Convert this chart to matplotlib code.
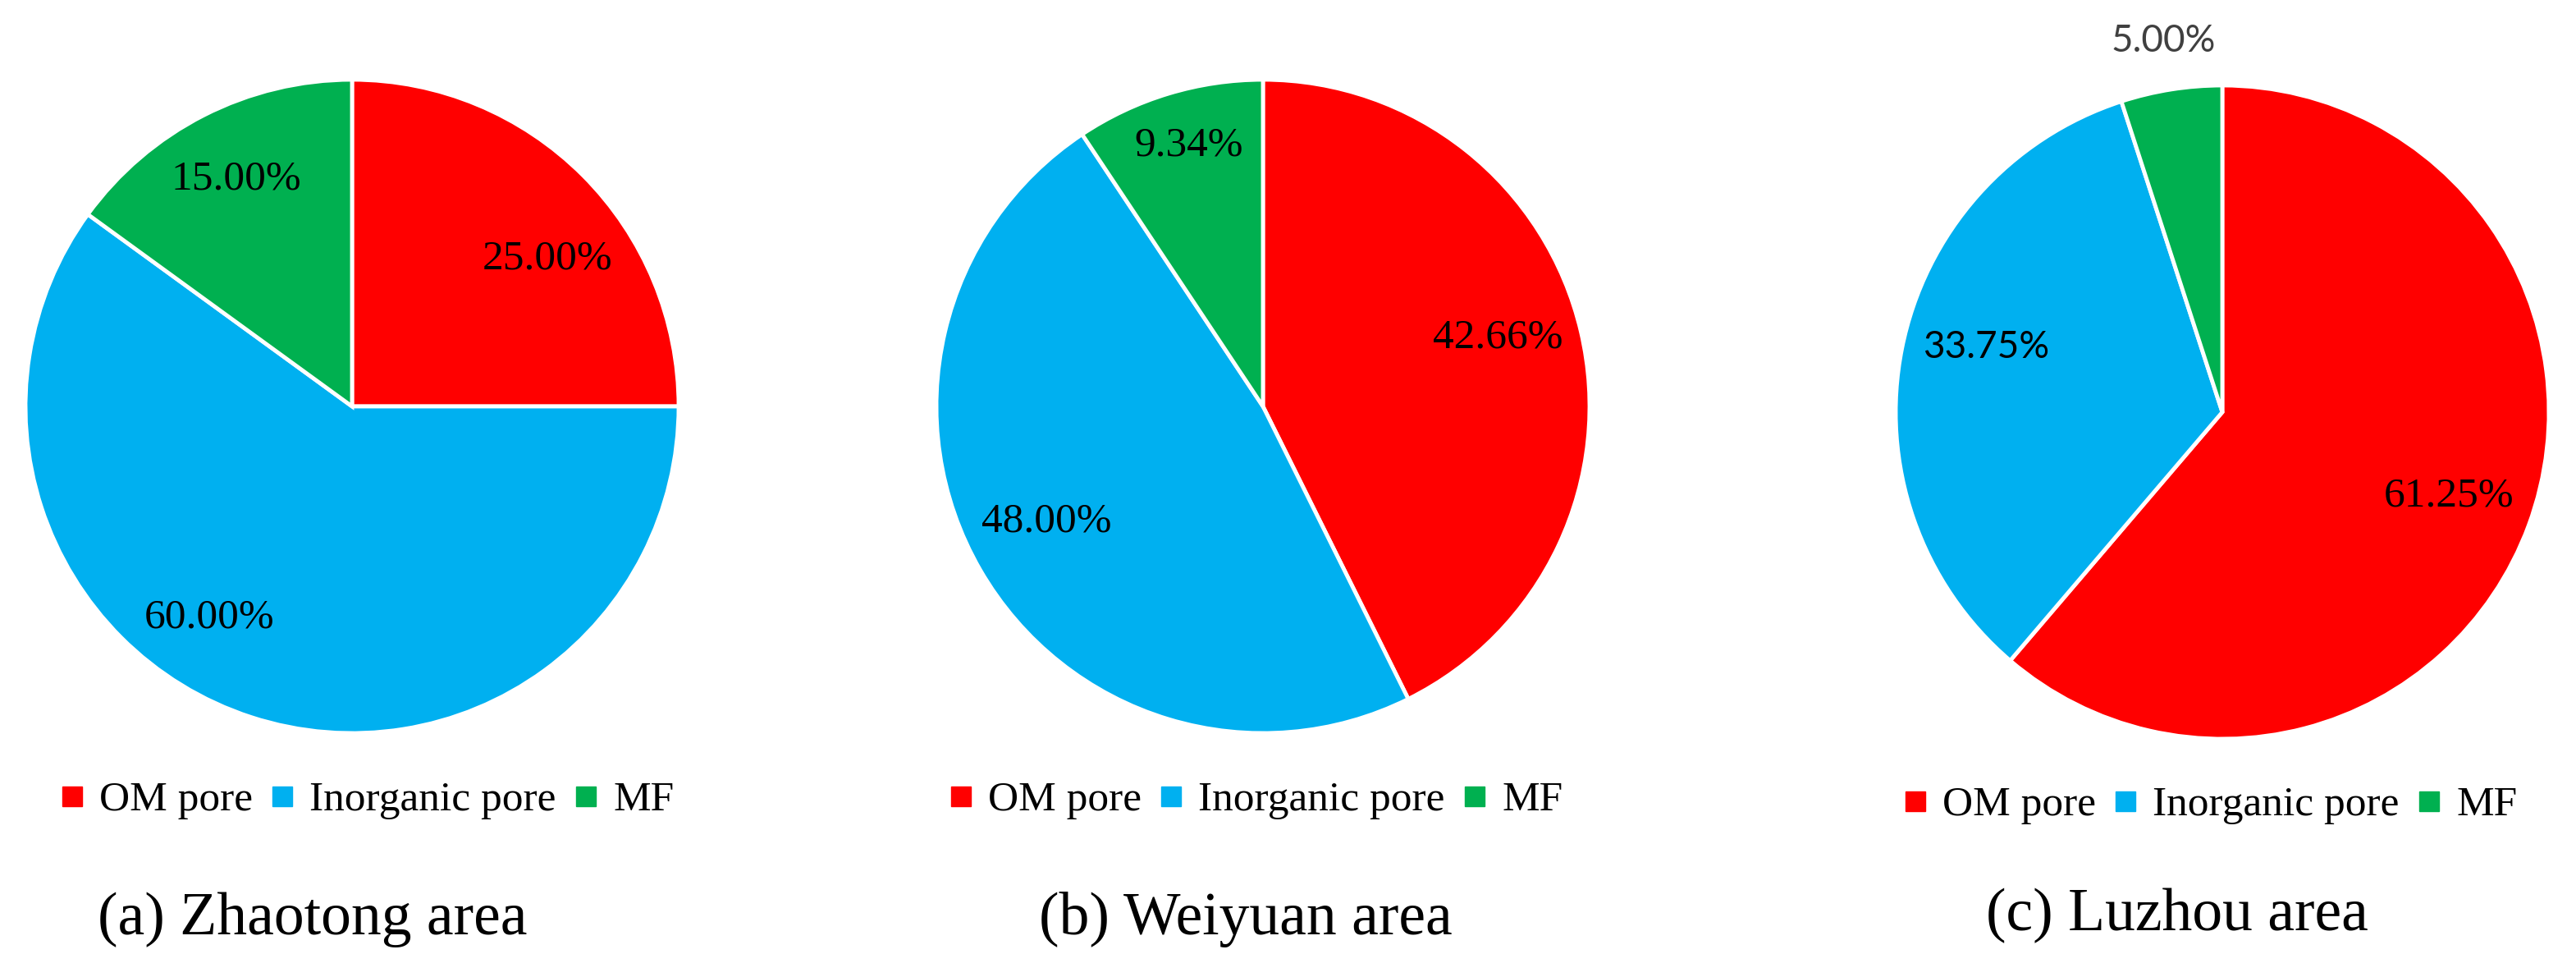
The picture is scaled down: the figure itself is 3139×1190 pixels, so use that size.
import matplotlib.pyplot as plt
import numpy as np

# pore type shares (%) in three shale areas
categories = ["OM pore", "Inorganic pore", "MF"]
zhaotong = [25.00, 60.00, 15.00]
weiyuan = [42.66, 48.00, 9.34]
luzhou = [61.25, 33.75, 5.00]
titles = ["(a) Zhaotong area", "(b) Weiyuan area", "(c) Luzhou area"]

colors = ["#FF0000", "#00B0F0", "#00B050"]

W, H = 3139, 1190
R = 398
centers = [(429, 495), (1539, 495), (2708, 502)]
legend_pos = [(448, 975), (1531, 975), (2694, 981)]
title_pos = [(381, 1120), (1518, 1120), (2653, 1115)]

# label placement: (angle shift from wedge middle in deg, distance as fraction of radius)
label_shift = [[-8, -16, 0], [3, -2, -1], [0, -4, 0]]
label_dist = [[0.75, 0.78, 0.78], [0.75, 0.75, 0.83], [0.74, 0.75, 1.15]]
# labels that were rendered in a sans font in the original
sans_labels = {(2, 1), (2, 2)}

fig = plt.figure(figsize=(W / 100, H / 100), dpi=100)

for k, data in enumerate([zhaotong, weiyuan, luzhou]):
    cx, cy = centers[k]
    ax = fig.add_axes([(cx - R) / W, (H - cy - R) / H, 2 * R / W, 2 * R / H])
    wedges, _, autotexts = ax.pie(data, colors=colors, startangle=90, counterclock=False,
                                  autopct='%.2f%%', pctdistance=0.75,
                                  wedgeprops=dict(edgecolor='white', linewidth=3.5))
    ax.set_xlim(-1, 1)
    ax.set_ylim(-1, 1)
    ax.set_aspect('equal')

    for i, (w, t) in enumerate(zip(wedges, autotexts)):
        ang = np.deg2rad((w.theta1 + w.theta2) / 2 + label_shift[k][i])
        d = label_dist[k][i]
        t.set_position((d * np.cos(ang), d * np.sin(ang)))
        t.set_ha('center')
        t.set_va('center')
        if (k, i) in sans_labels:
            t.set_fontfamily('Lato')
            t.set_fontsize(33)
            t.set_color('#404040' if i == 2 else 'black')
        else:
            t.set_fontfamily('Liberation Serif')
            t.set_fontsize(37)
            t.set_color('black')

    lx, ly = legend_pos[k]
    handles = [plt.Line2D([], [], marker='s', linestyle='', markersize=17,
                          markerfacecolor=c, markeredgecolor=c) for c in colors]
    fig.legend(handles, categories, loc='center', bbox_to_anchor=(lx / W, 1 - ly / H),
               ncol=3, frameon=False, prop={'family': 'Liberation Serif', 'size': 37},
               handlelength=0.5, handletextpad=0.4, columnspacing=0.45, borderpad=0)

    tx, ty = title_pos[k]
    fig.text(tx / W, 1 - ty / H, titles[k], ha='center', va='center',
             fontfamily='Liberation Serif', fontsize=53)

fig.savefig("out.png", dpi=100, facecolor='white')
